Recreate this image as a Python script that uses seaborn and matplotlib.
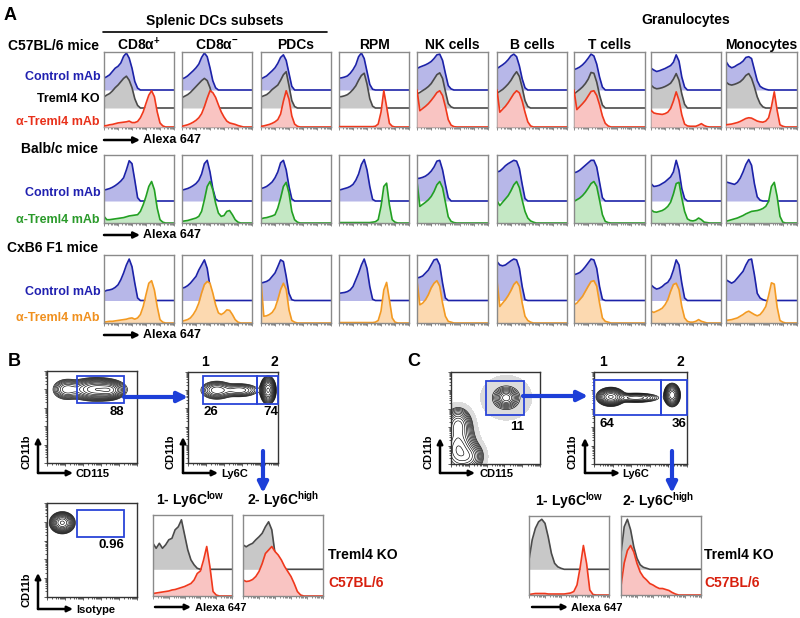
import numpy as np
import matplotlib
matplotlib.use("Agg")
import matplotlib.pyplot as plt
import seaborn as sns
from matplotlib.patches import Rectangle

sns.set_theme(style="white")
plt.rcParams['font.family'] = ['Liberation Sans', 'DejaVu Sans']
plt.rcParams['font.weight'] = 'bold'
plt.rcParams['mathtext.fontset'] = 'custom'
plt.rcParams['mathtext.rm'] = 'Liberation Sans:bold'
plt.rcParams['mathtext.bf'] = 'Liberation Sans:bold'
plt.rcParams['mathtext.default'] = 'rm'

# ---------------- data ----------------
COLUMNS = ["CD8α$^{+}$", "CD8α$^{-}$", "PDCs", "RPM", "NK cells", "B cells", "T cells", "", "Monocytes"]

# histogram heights (% of peak) on an even grid of 26 bins across the Alexa 647 axis; trailing zeros omitted
B6_CTRL = [
    [32, 36, 41, 50, 59, 64, 73, 91, 100, 86, 59, 23, 5],
    [30, 33, 38, 45, 52, 60, 70, 88, 100, 90, 60, 25, 6],
    [30, 34, 38, 45, 52, 60, 72, 88, 95, 80, 45, 10],
    [32, 33, 35, 38, 45, 55, 68, 90, 100, 85, 50, 15, 2],
    [58, 62, 65, 68, 72, 77, 85, 95, 97, 80, 45, 12, 3],
    [58, 63, 68, 74, 82, 92, 97, 90, 65, 30, 6],
    [55, 58, 62, 68, 76, 86, 97, 92, 70, 35, 8],
    [59, 54, 50, 52, 55, 58, 62, 66, 75, 95, 78, 35, 8],
    [77, 65, 60, 63, 68, 72, 78, 88, 90, 85, 55, 25, 10, 5, 2],
]
B6_KO = [
    [30, 35, 39, 46, 55, 62, 71, 80, 86, 75, 55, 25, 7],
    [28, 32, 36, 42, 50, 58, 66, 74, 80, 74, 55, 26, 8],
    [30, 33, 36, 42, 50, 56, 62, 75, 90, 98, 60, 20, 4],
    [30, 31, 33, 36, 42, 50, 60, 75, 88, 94, 65, 25, 5],
    [38, 42, 47, 52, 58, 66, 78, 90, 95, 80, 45, 12, 3],
    [40, 45, 50, 57, 65, 75, 88, 98, 85, 55, 20, 4],
    [38, 44, 50, 57, 66, 78, 96, 94, 70, 35, 8],
    [62, 55, 52, 53, 55, 58, 62, 67, 78, 93, 75, 38, 10],
    [70, 64, 62, 64, 67, 71, 78, 88, 93, 80, 57, 30, 12, 3],
]
B6_ANTI = [
    [3, 4, 6, 7, 9, 11, 12, 13, 14, 16, 12, 12, 15, 25, 41, 64, 86, 98, 82, 41, 11, 3],
    [2, 4, 6, 9, 13, 18, 25, 36, 55, 78, 98, 93, 80, 60, 41, 27, 16, 11, 9, 7, 4, 2],
    [2, 3, 5, 7, 10, 14, 20, 35, 70, 98, 75, 30, 8, 2],
    [1, 1, 1, 1, 1, 1, 1, 1, 1, 1, 1, 1, 1, 2, 8, 40, 98, 55, 10, 2],
    [100, 44, 50, 56, 63, 72, 82, 93, 98, 85, 55, 20, 5, 1],
    [100, 40, 48, 56, 66, 78, 90, 98, 92, 70, 40, 14, 3],
    [100, 47, 55, 63, 72, 84, 96, 98, 85, 60, 30, 10, 3],
    [45, 38, 36, 35, 34, 36, 40, 50, 70, 95, 72, 33, 8, 3, 2, 2, 2, 5, 9, 4, 1],
    [6, 7, 8, 10, 12, 15, 19, 23, 25, 24, 20, 16, 14, 13, 16, 25, 55, 95, 45, 6, 2],
]
BALB_CTRL = [
    [26, 28, 30, 33, 37, 42, 48, 56, 75, 97, 90, 50, 8],
    [26, 28, 30, 33, 37, 42, 50, 65, 90, 98, 70, 30, 5],
    [30, 32, 35, 40, 46, 56, 70, 92, 98, 75, 35, 5],
    [26, 28, 30, 32, 35, 40, 50, 65, 88, 100, 75, 35, 4],
    [54, 55, 57, 60, 65, 72, 82, 96, 98, 75, 40, 8],
    [70, 72, 78, 85, 90, 94, 98, 96, 78, 40, 6],
    [68, 70, 74, 80, 86, 92, 98, 98, 82, 45, 8],
    [42, 35, 36, 38, 42, 46, 52, 58, 70, 98, 74, 30, 6],
    [46, 44, 42, 40, 45, 55, 70, 88, 100, 86, 42, 10, 2],
]
BALB_ANTI = [
    [16, 8, 8, 9, 10, 11, 12, 13, 15, 17, 18, 19, 20, 28, 44, 64, 88, 100, 80, 36, 8, 2],
    [4, 5, 6, 8, 10, 12, 16, 28, 56, 88, 100, 80, 48, 24, 16, 18, 28, 30, 20, 8, 2],
    [10, 12, 13, 15, 17, 20, 36, 60, 88, 98, 72, 28, 8, 2],
    [1, 1, 1, 1, 1, 1, 1, 1, 1, 1, 1, 1, 2, 3, 8, 40, 88, 96, 44, 8, 2],
    [100, 40, 45, 50, 56, 64, 76, 92, 100, 85, 50, 15, 4, 1],
    [54, 42, 50, 58, 66, 78, 92, 100, 85, 55, 28, 12, 5, 2],
    [52, 56, 60, 66, 74, 84, 95, 100, 88, 55, 20, 4, 1],
    [32, 27, 26, 28, 30, 34, 40, 50, 70, 95, 98, 60, 28, 10, 6, 5, 7, 12, 8, 2, 1],
    [4, 6, 8, 10, 12, 15, 18, 22, 25, 28, 29, 30, 32, 35, 40, 52, 88, 98, 64, 16, 2],
]
F1_CTRL = [
    [21, 24, 25, 27, 31, 37, 49, 65, 84, 98, 80, 41, 6],
    [29, 31, 35, 41, 49, 57, 72, 84, 96, 76, 33, 2],
    [41, 43, 45, 49, 57, 65, 80, 96, 92, 57, 17, 2],
    [17, 18, 19, 21, 25, 33, 49, 65, 84, 98, 76, 33, 3],
    [53, 55, 58, 65, 72, 84, 96, 98, 84, 41, 6],
    [92, 84, 82, 84, 89, 94, 98, 96, 76, 33, 2],
    [61, 63, 66, 72, 80, 89, 98, 96, 76, 33, 3],
    [37, 31, 27, 29, 33, 39, 43, 53, 72, 96, 84, 41, 6],
    [49, 45, 41, 45, 53, 61, 69, 84, 96, 98, 61, 17, 6, 2],
]
F1_ANTI = [
    [2, 3, 4, 4, 5, 6, 7, 8, 9, 11, 12, 9, 12, 20, 39, 67, 94, 100, 78, 39, 8, 2],
    [4, 6, 8, 12, 20, 31, 47, 71, 91, 98, 94, 71, 43, 24, 20, 24, 31, 30, 20, 8, 2],
    [100, 16, 17, 20, 25, 35, 55, 79, 94, 79, 31, 6, 2],
    [1, 1, 1, 1, 1, 1, 1, 1, 1, 1, 1, 1, 1, 2, 6, 28, 78, 96, 55, 12, 2],
    [100, 43, 47, 55, 67, 83, 94, 100, 87, 47, 16, 4, 2],
    [100, 39, 47, 55, 65, 77, 91, 98, 87, 47, 16, 6, 2],
    [43, 47, 55, 63, 75, 87, 98, 100, 87, 47, 12, 4, 2],
    [28, 25, 28, 31, 35, 43, 55, 75, 91, 94, 79, 39, 12, 4, 2, 2, 4, 8, 4, 2],
    [6, 7, 8, 10, 12, 16, 20, 25, 28, 24, 20, 17, 20, 28, 39, 65, 95, 92, 38, 6, 2],
]
B_LOW_KO = [52, 42, 52, 42, 49, 59, 62, 79, 85, 99, 69, 39, 19, 9, 2]
B_LOW_B6 = [5, 6, 7, 8, 9, 10, 12, 13, 15, 17, 19, 22, 25, 32, 45, 50, 72, 99, 59, 9, 2]
B_HIGH_KO = [49, 45, 49, 52, 59, 65, 72, 85, 95, 79, 32, 12, 5]
B_HIGH_B6 = [32, 29, 30, 33, 39, 49, 65, 85, 92, 99, 89, 82, 72, 59, 49, 39, 25, 9, 2]
C_LOW_KO = [19, 59, 82, 95, 100, 92, 65, 32, 12, 5, 2]
C_LOW_B6 = [1, 2, 3, 3, 3, 3, 2, 2, 2, 2, 2, 2, 3, 4, 7, 20, 56, 99, 63, 10, 1]
C_HIGH_KO = [32, 85, 100, 79, 45, 22, 9, 4, 2]
C_HIGH_B6 = [18, 64, 89, 99, 86, 63, 46, 36, 30, 23, 20, 16, 13, 13, 11, 9, 5, 2]

# contour plot populations: (centre x, centre y, spread x, spread y, weight), in plot fractions
B_CD115_POPS = [(0.22, 0.80, 0.07, 0.05, 0.35), (0.55, 0.80, 0.13, 0.05, 1.0), (0.70, 0.79, 0.06, 0.04, 0.5)]
B_LY6C_POPS = [(0.32, 0.80, 0.08, 0.045, 0.35), (0.57, 0.80, 0.10, 0.035, 0.25), (0.89, 0.80, 0.035, 0.06, 1.0)]
B_ISO_POPS = [(0.17, 0.79, 0.055, 0.045, 1.0)]
C_CD115_POPS = [(0.08, 0.16, 0.08, 0.12, 1.0), (0.08, 0.42, 0.065, 0.08, 0.6), (0.2, 0.08, 0.07, 0.07, 0.5),
                (0.62, 0.72, 0.055, 0.045, 0.45), (0.62, 0.72, 0.13, 0.11, 0.05)]
C_LY6C_POPS = [(0.18, 0.73, 0.06, 0.04, 1.0), (0.45, 0.72, 0.12, 0.025, 0.25), (0.84, 0.75, 0.035, 0.05, 0.9)]
GATE_PCT = {"B88": "88", "B26": "26", "B74": "74", "Biso": "0.96", "C11": "11", "C64": "64", "C36": "36"}

# ---------------- styling ----------------
BLUE_L, BLUE_F = "#1c22a8", "#b7b7e8"
GREY_L, GREY_F = "#4a4a4a", "#c8c8c8"
RED_L, RED_F = "#f0381c", "#f9c4c2"
GREEN_L, GREEN_F = "#22a022", "#c4e8c4"
ORANGE_L, ORANGE_F = "#f39a22", "#fcd9b0"
GATE = "#2a44d8"
ARROW_BLUE = "#1d3fd8"

W, H = 800, 618
fig = plt.figure(figsize=(8, 6.18), dpi=100)
X = np.linspace(0, 1, 26)


def px_ax(x0, y0, x1, y1):
    return fig.add_axes([x0 / W, 1 - y1 / H, (x1 - x0) / W, (y1 - y0) / H])


def log_ticks(ax, axis="x", color="#777777"):
    major = np.arange(0, 1.01, 0.2)
    minor = [d * 0.2 + 0.2 * np.log10(k) for d in range(5) for k in range(2, 10)]
    if axis in ("x", "both"):
        ax.set_xticks(major)
        ax.set_xticks(minor, minor=True)
        ax.tick_params(axis="x", which="both", bottom=True, direction="out", color=color,
                       labelbottom=False, width=0.6)
        ax.tick_params(axis="x", which="major", length=2.5)
        ax.tick_params(axis="x", which="minor", length=1.3)
    if axis in ("y", "both"):
        ax.set_yticks(major)
        ax.set_yticks(minor, minor=True)
        ax.tick_params(axis="y", which="both", left=True, direction="out", color=color,
                       labelleft=False, width=0.6)
        ax.tick_params(axis="y", which="major", length=2.5)
        ax.tick_params(axis="y", which="minor", length=1.3)


def hist_box(x0, y0, x1, y1, layers, amp):
    ax = px_ax(x0, y0, x1, y1)
    h = y1 - y0
    ax.set_xlim(0, 1)
    ax.set_ylim(0, h)
    z = 1
    for vals, base, lc, fc in layers:
        v = np.zeros(len(X))
        v[:len(vals)] = vals
        y = base + amp * v / 100.0
        ax.fill_between(X, base, y, color=fc, lw=0, zorder=z)
        sns.lineplot(x=X, y=y, ax=ax, color=lc, lw=1.2, zorder=z + 0.5, estimator=None,
                     sort=False, legend=False)
        z += 1
    for s in ax.spines.values():
        s.set_color("#8a8a8a")
        s.set_linewidth(1.0)
    ax.set_yticks([])
    log_ticks(ax, "x")
    ax.set_xlabel("")
    ax.set_ylabel("")
    return ax


def contour_box(x0, y0, x1, y1, pops, gates, halo=False):
    ax = px_ax(x0, y0, x1, y1)
    g = np.linspace(0, 1, 240)
    GX, GY = np.meshgrid(g, g)
    Z = np.zeros_like(GX)
    for cx, cy, sx, sy, w in pops:
        Z += w * np.exp(-((GX - cx) ** 2 / (2 * sx ** 2) + (GY - cy) ** 2 / (2 * sy ** 2)))
    m = Z.max()
    if halo:
        ax.contourf(GX, GY, Z, levels=[m * 0.004, m * 0.03], colors=["#dcdcdc"])
    lev = m * np.geomspace(0.03, 0.92, 12)
    ax.contour(GX, GY, Z, levels=lev, colors="black", linewidths=0.45)
    for gx0, gy0, gx1, gy1 in gates:
        ax.add_patch(Rectangle((gx0, gy0), gx1 - gx0, gy1 - gy0, fill=False, ec=GATE, lw=1.3,
                               zorder=5, clip_on=False))
    ax.set_xlim(0, 1)
    ax.set_ylim(0, 1)
    for s in ax.spines.values():
        s.set_color("#333333")
        s.set_linewidth(1.0)
    log_ticks(ax, "both", color="#444444")
    return ax


# ---------------- panel A ----------------
BOX_X = [(104, 174), (182, 252), (261, 331), (339, 409), (417, 488), (497, 567), (574, 645), (651, 721), (726, 797)]
for i, (x0, x1) in enumerate(BOX_X):
    hist_box(x0, 52, x1, 127, [(B6_CTRL[i], 37, BLUE_L, BLUE_F), (B6_KO[i], 19, GREY_L, GREY_F),
                               (B6_ANTI[i], 0, RED_L, RED_F)], 37)
    hist_box(x0, 155, x1, 223, [(BALB_CTRL[i], 22, BLUE_L, BLUE_F), (BALB_ANTI[i], 0, GREEN_L, GREEN_F)], 41.5)
    hist_box(x0, 255, x1, 323, [(F1_CTRL[i], 22.5, BLUE_L, BLUE_F), (F1_ANTI[i], 0, ORANGE_L, ORANGE_F)], 42.3)

# ---------------- panel B / C flow plots ----------------
contour_box(47, 371, 137, 463, B_CD115_POPS, [(0.33, 0.65, 0.86, 0.95)])
contour_box(188, 372, 278, 463, B_LY6C_POPS, [(0.17, 0.65, 0.77, 0.96), (0.77, 0.65, 1.0, 0.96)])
contour_box(47, 503, 137, 597, B_ISO_POPS, [(0.33, 0.64, 0.86, 0.93)])
contour_box(451, 372, 540, 464, C_CD115_POPS, [(0.39, 0.53, 0.82, 0.90)], halo=True)
contour_box(594, 372, 687, 464, C_LY6C_POPS, [(0.0, 0.53, 0.72, 0.91), (0.72, 0.53, 1.0, 0.91)])

hist_box(153, 515, 232, 596, [(B_LOW_KO, 26.7, GREY_L, GREY_F), (B_LOW_B6, 0, RED_L, RED_F)], 50)
hist_box(243, 515, 323, 596, [(B_HIGH_KO, 26.7, GREY_L, GREY_F), (B_HIGH_B6, 0, RED_L, RED_F)], 50)
hist_box(529, 516, 609, 595, [(C_LOW_KO, 25.7, GREY_L, GREY_F), (C_LOW_B6, 0, RED_L, RED_F)], 50)
hist_box(621, 516, 701, 595, [(C_HIGH_KO, 25.7, GREY_L, GREY_F), (C_HIGH_B6, 0, RED_L, RED_F)], 50)

# ---------------- overlay: text and arrows ----------------
ov = fig.add_axes([0, 0, 1, 1])
ov.set_xlim(0, W)
ov.set_ylim(H, 0)
ov.axis("off")
ov.set_zorder(10)
ov.patch.set_visible(False)


def T(x, y, s, fs=9, ha="center", color="black", **kw):
    ov.text(x, y, s, fontsize=fs, ha=ha, va="center", color=color, fontweight="bold", **kw)


def arrow(x0, y0, x1, y1, color="black", lw=1.6, ms=9):
    ov.annotate("", xy=(x1, y1), xytext=(x0, y0),
                arrowprops=dict(arrowstyle="-|>", color=color, lw=lw, mutation_scale=ms,
                                shrinkA=0, shrinkB=0))


T(10, 15, "A", fs=13)
T(215, 21, "Splenic DCs subsets", fs=10)
ov.plot([103, 327], [32, 32], color="black", lw=1.2)
T(686, 20, "Granulocytes", fs=10)
for (x0, x1), name in zip(BOX_X, COLUMNS):
    if name:
        T((x0 + x1) / 2, 45, name, fs=10)

T(99, 46, "C57BL/6 mice", fs=10, ha="right")
T(101, 77, "Control mAb", fs=9, ha="right", color="#2020b0")
T(100, 99, "Treml4 KO", fs=9, ha="right")
T(100, 122, "α-Treml4 mAb", fs=9, ha="right", color="#e8301a")
arrow(104, 140, 140, 140, lw=1.8)
T(143, 140, "Alexa 647", fs=9, ha="left")

T(98, 149, "Balb/c mice", fs=10, ha="right")
T(101, 193, "Control mAb", fs=9, ha="right", color="#2020b0")
T(100, 220, "α-Treml4 mAb", fs=9, ha="right", color="#2a9a2a")
arrow(104, 235, 140, 235, lw=1.8)
T(143, 235, "Alexa 647", fs=9, ha="left")

T(98, 248, "CxB6 F1 mice", fs=10, ha="right")
T(101, 292, "Control mAb", fs=9, ha="right", color="#2020b0")
T(100, 318, "α-Treml4 mAb", fs=9, ha="right", color="#f0901e")
arrow(104, 335, 140, 335, lw=1.8)
T(143, 335, "Alexa 647", fs=9, ha="left")

# panel B
T(14, 361, "B", fs=13)
T(124, 412, GATE_PCT["B88"], fs=9.5, ha="right")
T(205, 362, "1", fs=10)
T(274, 362, "2", fs=10)
T(203, 412, GATE_PCT["B26"], fs=9.5, ha="left")
T(278, 412, GATE_PCT["B74"], fs=9.5, ha="right")
T(124, 545, GATE_PCT["Biso"], fs=9.5, ha="right")
arrow(124, 397, 188, 397, color=ARROW_BLUE, lw=3, ms=15)
arrow(263, 451, 263, 493, color=ARROW_BLUE, lw=3, ms=15)
for (ax0, ay, lab, lx, cy) in [(38, 473, "CD115", 76, 452), (183, 473, "Ly6C", 221, 452),
                                (38, 609, "Isotype", 76, 590)]:
    arrow(ax0, ay, ax0, ay - 36, lw=1.8, ms=8)
    arrow(ax0, ay, ax0 + 35, ay, lw=1.8, ms=8)
    T(lx, ay + 1, lab, fs=8, ha="left")
    T(ax0 - 12, cy, "CD11b", fs=8, rotation=90)
T(190, 500, "1- Ly6C$^{low}$", fs=10)
T(283, 500, "2- Ly6C$^{high}$", fs=10)
T(328, 555, "Treml4 KO", fs=10, ha="left")
T(328, 583, "C57BL/6", fs=10, ha="left", color="#d8200e")
arrow(155, 607, 191, 607, lw=1.8, ms=8)
T(195, 608, "Alexa 647", fs=8, ha="left")

# panel C
T(414, 361, "C", fs=13)
T(524, 427, GATE_PCT["C11"], fs=9.5, ha="right")
T(603, 362, "1", fs=10)
T(680, 362, "2", fs=10)
T(600, 424, GATE_PCT["C64"], fs=9.5, ha="left")
T(687, 424, GATE_PCT["C36"], fs=9.5, ha="right")
arrow(523, 396, 588, 396, color=ARROW_BLUE, lw=3, ms=15)
arrow(672, 451, 672, 493, color=ARROW_BLUE, lw=3, ms=15)
for (ax0, ay, lab, lx, cy) in [(440, 473, "CD115", 479, 452), (585, 473, "Ly6C", 622, 452)]:
    arrow(ax0, ay, ax0, ay - 35, lw=1.8, ms=8)
    arrow(ax0, ay, ax0 + 35, ay, lw=1.8, ms=8)
    T(lx, ay + 1, lab, fs=8, ha="left")
    T(ax0 - 12, cy, "CD11b", fs=8, rotation=90)
T(569, 501, "1- Ly6C$^{low}$", fs=10)
T(658, 501, "2- Ly6C$^{high}$", fs=10)
T(704, 555, "Treml4 KO", fs=10, ha="left")
T(704, 583, "C57BL/6", fs=10, ha="left", color="#d8200e")
arrow(532, 607, 568, 607, lw=1.8, ms=8)
T(571, 608, "Alexa 647", fs=8, ha="left")

fig.savefig("out.png", dpi=100)
